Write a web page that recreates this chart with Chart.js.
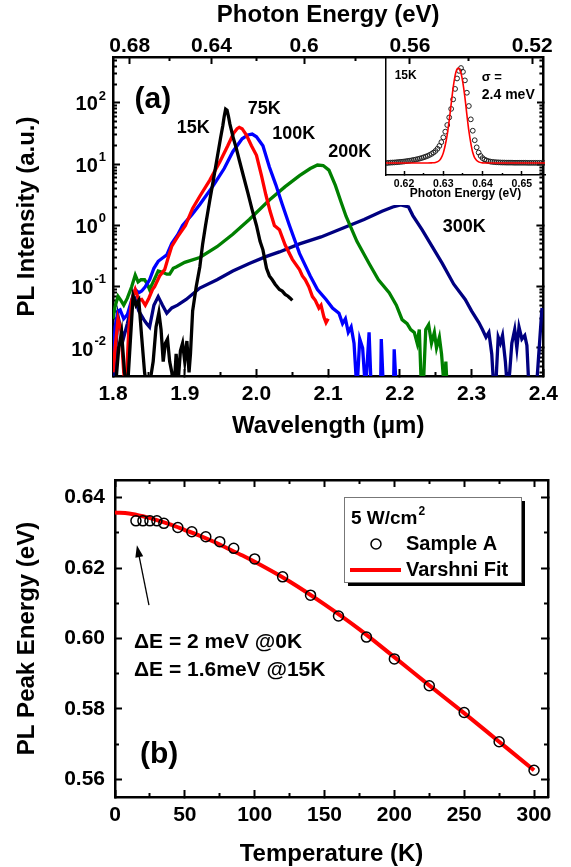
<!DOCTYPE html>
<html><head><meta charset="utf-8">
<script src="https://cdn.jsdelivr.net/npm/chart.js@4.4.0/dist/chart.umd.min.js"></script>
<style>
html,body{margin:0;padding:0;background:#fff;width:571px;height:867px;overflow:hidden}
#wrap{position:relative;width:571px;height:867px;background:#fff}
canvas{position:absolute}
#ca{left:0;top:0}
#ci{left:376px;top:50px}
#cb{left:0;top:440px}
</style></head><body>
<div id="wrap">
<canvas id="ca" width="571" height="440"></canvas>
<canvas id="ci" width="181" height="155"></canvas>
<canvas id="cb" width="571" height="427"></canvas>
</div>
<script>
const FONT = "'Liberation Sans', Arial, Helvetica, sans-serif";
const HC = 1.23984; // eV*um, converts photon energy to wavelength for the top axis

// ---------------- Panel (a): PL spectra (wavelength in um, intensity a.u.) ----------------
const wl15 = [1.803,1.808,1.812,1.816,1.820,1.824,1.828,1.832,1.836,1.840,1.844,1.848,1.852,1.856,1.860,1.864,1.867,1.870,1.873,1.876,1.879,1.882,1.885,1.888,1.891,1.894,1.897,1.900,1.903,1.906,1.908,1.911,1.916,1.921,1.925,1.929,1.935,1.940,1.945,1.950,1.953,1.955,1.957,1.959,1.961,1.963,1.968,1.972,1.976,1.982,1.988,1.994,2.000,2.005,2.009,2.014,2.018,2.022,2.026,2.032,2.036,2.040,2.044,2.047,2.050];
const pl15 = [0.002,0.010,0.018,0.004,0.002,0.012,0.070,0.050,0.060,0.015,0.004,0.002,0.003,0.006,0.022,0.038,0.020,0.006,0.012,0.014,0.006,0.004,0.002,0.008,0.003,0.009,0.012,0.006,0.013,0.004,0.008,0.040,0.10,0.21,0.50,1.0,2.6,5.6,12.3,27,42,60,79,76,60,45,26,18,11.7,6.3,3.4,1.8,1.0,0.55,0.40,0.20,0.15,0.13,0.11,0.09,0.085,0.075,0.07,0.065,0.06];

const wl75 = [1.800,1.803,1.807,1.811,1.815,1.818,1.822,1.826,1.831,1.836,1.840,1.845,1.850,1.855,1.858,1.865,1.872,1.877,1.882,1.890,1.901,1.911,1.921,1.935,1.949,1.960,1.968,1.973,1.976,1.980,1.986,1.993,2.000,2.007,2.013,2.019,2.025,2.032,2.040,2.050,2.060,2.064,2.068,2.073,2.078,2.082,2.087,2.090,2.094,2.097,2.100];
const pl75 = [0.004,0.010,0.030,0.020,0.004,0.002,0.020,0.060,0.090,0.060,0.062,0.050,0.065,0.090,0.10,0.15,0.19,0.30,0.46,0.65,1.0,1.9,3.0,5.5,11,20,32,38,40,38,30,20,14,6.5,3.2,1.7,1.0,0.85,0.48,0.28,0.19,0.15,0.13,0.10,0.069,0.060,0.045,0.050,0.032,0.026,0.030];

const wl100 = [1.800,1.803,1.807,1.810,1.815,1.820,1.826,1.831,1.836,1.840,1.845,1.851,1.857,1.863,1.870,1.875,1.882,1.890,1.897,1.910,1.921,1.940,1.955,1.967,1.980,1.988,1.994,2.000,2.009,2.018,2.027,2.036,2.046,2.060,2.075,2.085,2.097,2.106,2.115,2.120,2.124,2.128,2.132,2.136,2.140,2.144,2.148,2.152,2.157,2.160,2.173,2.174,2.177,2.191,2.192,2.195];
const pl100 = [0.006,0.022,0.040,0.042,0.030,0.035,0.060,0.090,0.080,0.085,0.10,0.13,0.20,0.26,0.30,0.33,0.51,0.70,1.0,1.5,2.2,4.5,8.5,16,26,30,31,28,20,9,4.6,2.2,1.0,0.35,0.15,0.09,0.062,0.045,0.037,0.025,0.030,0.018,0.022,0.012,0.002,0.014,0.010,0.002,0.018,0.002,0.002,0.014,0.002,0.002,0.0095,0.002];

const wl200 = [1.800,1.803,1.807,1.811,1.815,1.820,1.826,1.831,1.835,1.839,1.844,1.848,1.851,1.856,1.863,1.870,1.875,1.879,1.884,1.888,1.900,1.921,1.945,1.967,1.990,2.018,2.040,2.060,2.075,2.085,2.093,2.101,2.110,2.118,2.125,2.140,2.157,2.170,2.185,2.195,2.203,2.210,2.215,2.220,2.224,2.227,2.230,2.233,2.236,2.240,2.244,2.248,2.251,2.255,2.258,2.262,2.264,2.266];
const pl200 = [0.030,0.048,0.070,0.060,0.050,0.065,0.10,0.155,0.12,0.13,0.13,0.11,0.09,0.12,0.18,0.17,0.16,0.16,0.20,0.21,0.25,0.30,0.45,0.72,1.25,2.6,4.3,6.5,8.5,9.7,9.5,8.0,4.5,2.4,1.4,0.55,0.24,0.13,0.08,0.05,0.029,0.025,0.020,0.018,0.012,0.020,0.002,0.003,0.020,0.024,0.012,0.018,0.010,0.015,0.008,0.002,0.006,0.002];

const wl300 = [1.800,1.803,1.807,1.811,1.815,1.820,1.826,1.831,1.836,1.843,1.847,1.851,1.857,1.863,1.869,1.875,1.882,1.890,1.902,1.921,1.945,1.967,1.990,2.013,2.032,2.060,2.090,2.120,2.150,2.175,2.190,2.201,2.212,2.218,2.231,2.245,2.259,2.275,2.291,2.300,2.310,2.315,2.320,2.324,2.328,2.331,2.334,2.337,2.340,2.343,2.347,2.350,2.353,2.356,2.360,2.363,2.366,2.370,2.374,2.377,2.380,2.390,2.398];
const pl300 = [0.002,0.0065,0.033,0.020,0.015,0.025,0.050,0.062,0.040,0.029,0.025,0.022,0.050,0.069,0.050,0.037,0.045,0.050,0.062,0.095,0.13,0.18,0.24,0.31,0.37,0.50,0.65,0.90,1.25,1.70,2.0,2.17,2.0,1.45,0.85,0.45,0.24,0.11,0.062,0.040,0.026,0.020,0.015,0.018,0.008,0.002,0.003,0.015,0.012,0.016,0.006,0.002,0.004,0.012,0.020,0.010,0.022,0.014,0.016,0.011,0.002,0.002,0.045];

const seriesNames = ['15K','75K','100K','200K','300K'];
const seriesColors = ['#000000','#ff0000','#0000ff','#008000','#000080'];

const wlMajor = [1.8,1.9,2.0,2.1,2.2,2.3,2.4];
const wlMinor = [1.85,1.95,2.05,2.15,2.25,2.35];
const eTop = [0.68,0.64,0.60,0.56,0.52];
const eTopLabels = ['0.68','0.64','0.6','0.56','0.52'];
const eTopMinor = [0.66,0.62,0.58,0.54];
const yDecades = [0.01,0.1,1,10,100];
const yExp = ['-2','-1','0','1','2'];
const yMinorVals = [0.004,0.005,0.006,0.007,0.008,0.009,0.02,0.03,0.04,0.05,0.06,0.07,0.08,0.09,0.2,0.3,0.4,0.5,0.6,0.7,0.8,0.9,2,3,4,5,6,7,8,9,20,30,40,50,60,70,80,90,200,300,400,500];

// ---------------- Inset: 15K spectrum vs photon energy ----------------
const insetE = [0.6155,0.6160,0.6165,0.6170,0.6175,0.6180,0.6185,0.6190,0.6195,0.6200,0.6205,0.6210,0.6215,0.6220,0.6225,0.6230,0.6235,0.6240,0.6245,0.6250,0.6255,0.6260,0.6265,0.6270,0.6275,0.6280,0.6285,0.6290,0.6295,0.6300,0.6305,0.6310,0.6315,0.6320,0.6325,0.6330,0.6335,0.6340,0.6345,0.6350,0.6355,0.6360,0.6365,0.6370,0.6375,0.6380,0.6385,0.6390,0.6395,0.6400,0.6405,0.6410,0.6415,0.6420,0.6425,0.6430,0.6435,0.6440,0.6445,0.6450,0.6455,0.6460,0.6465,0.6470,0.6475,0.6480,0.6485,0.6490,0.6495,0.6500,0.6505,0.6510,0.6515,0.6520,0.6525,0.6530,0.6535,0.6540,0.6545,0.6550,0.6555];
const insetPL = [0.000,0.002,0.004,0.005,0.006,0.008,0.010,0.012,0.014,0.016,0.019,0.022,0.025,0.029,0.033,0.037,0.042,0.047,0.053,0.060,0.067,0.075,0.085,0.096,0.110,0.127,0.150,0.180,0.220,0.270,0.330,0.400,0.480,0.570,0.670,0.780,0.890,0.970,1.000,0.960,0.870,0.740,0.600,0.460,0.340,0.240,0.165,0.110,0.075,0.052,0.037,0.027,0.020,0.015,0.012,0.010,0.008,0.007,0.006,0.005,0.005,0.004,0.004,0.004,0.004,0.003,0.003,0.003,0.003,0.003,0.003,0.003,0.002,0.002,0.002,0.002,0.002,0.002,0.002,0.002,0.002];
const insetFitE = [0.6154,0.6260,0.6270,0.6280,0.6290,0.6295,0.6300,0.6305,0.6310,0.6315,0.6320,0.6325,0.6330,0.6334,0.6338,0.6342,0.6346,0.6350,0.6355,0.6360,0.6365,0.6370,0.6375,0.6380,0.6390,0.6400,0.6410,0.6559];
const insetFitPL = [0.000,0.000,0.002,0.006,0.027,0.056,0.107,0.19,0.30,0.45,0.62,0.79,0.92,0.98,1.00,0.98,0.93,0.84,0.69,0.51,0.34,0.21,0.11,0.055,0.012,0.002,0.000,0.000];
const insetTicks = [0.62,0.63,0.64,0.65];
const insetMinor = [0.625,0.635,0.645,0.655];

// ---------------- Panel (b): PL peak energy vs temperature ----------------
const tempK = [15,20,25,30,35,45,55,65,75,85,100,120,140,160,180,200,225,250,275,300];
const peakE = [0.6334,0.6334,0.6334,0.6334,0.6327,0.6315,0.6303,0.6289,0.6275,0.6256,0.6226,0.6175,0.6123,0.6064,0.6004,0.5942,0.5866,0.5790,0.5707,0.5626];
const fitT = [0,10,20,30,40,50,60,70,80,90,100,125,150,175,200,225,250,275,300];
const fitE = [0.6358,0.6355,0.6347,0.6336,0.6323,0.6308,0.6293,0.6276,0.6257,0.6238,0.6218,0.6162,0.6097,0.6026,0.5947,0.5867,0.5788,0.5707,0.5626];
const tMajor = [0,50,100,150,200,250,300];
const tMinor = [25,75,125,175,225,275];
const eMajor = [0.56,0.58,0.60,0.62,0.64];
const eMinor = [0.57,0.59,0.61,0.63];

// ---------------- helpers ----------------
const pts = (xs, ys) => xs.map((x, i) => ({x, y: ys[i]}));
const fixTicks = arr => s => { s.ticks = arr.map(v => ({value: v})); };
const gridIn = (len, w) => ({display: true, drawOnChartArea: false, drawTicks: true, tickLength: -len, tickWidth: w || 2, tickColor: '#000'});
const borderOn = {display: true, color: '#000', width: 2.5};
const borderOff = {display: false};
const tickFont = {family: FONT, size: 21, weight: 'bold'};
const titleFont = {family: FONT, size: 24, weight: 'bold'};
const hidden = {display: false};

function markAxis(type, position, min, max, arr, len, sizeKey, weight, withBorder) {
  return {type, position, min, max, weight: weight, afterBuildTicks: fixTicks(arr),
    afterFit: s => { s[sizeKey] = 0; }, ticks: hidden, grid: gridIn(len), border: withBorder ? borderOn : borderOff};
}

// ---------------- Chart (a) ----------------
const YMIN = 0.00349, YMAX = 562;
const specLabels = [
  {text: '(a)', x: 1.8556, y: 112, size: 30},
  {text: '15K', x: 1.9118, y: 39, size: 18},
  {text: '75K', x: 2.011, y: 80, size: 18},
  {text: '100K', x: 2.052, y: 31.2, size: 18},
  {text: '200K', x: 2.130, y: 15.8, size: 18},
  {text: '300K', x: 2.2896, y: 0.948, size: 18}
];
const annotA = {
  id: 'annotA',
  afterDraw(chart) {
    const ctx = chart.ctx, sx = chart.scales.x, sy = chart.scales.y;
    ctx.save();
    ctx.fillStyle = '#000';
    ctx.textBaseline = 'middle';
    // log tick labels 10^n
    yDecades.forEach((v, i) => {
      const py = sy.getPixelForValue(v);
      const xr = sy.right - 7;
      ctx.font = 'bold 13px ' + FONT;
      const we = ctx.measureText(yExp[i]).width;
      ctx.textAlign = 'left';
      ctx.fillText(yExp[i], xr - we, py - 7);
      ctx.font = 'bold 20px ' + FONT;
      ctx.textAlign = 'right';
      ctx.fillText('10', xr - we - 1, py + 2);
    });
    ctx.textAlign = 'center';
    specLabels.forEach(l => {
      ctx.font = 'bold ' + l.size + 'px ' + FONT;
      ctx.fillText(l.text, sx.getPixelForValue(l.x), sy.getPixelForValue(l.y));
    });
    ctx.restore();
  }
};

const specX = [wl15, wl75, wl100, wl200, wl300];
const specY = [pl15, pl75, pl100, pl200, pl300];
new Chart(document.getElementById('ca'), {
  type: 'line',
  data: {datasets: seriesNames.map((n, i) => ({
    label: n, data: pts(specX[i], specY[i]), borderColor: seriesColors[i], backgroundColor: seriesColors[i],
    borderWidth: 3.3, pointRadius: 0, fill: false, tension: 0, xAxisID: 'x', yAxisID: 'y'
  }))},
  options: {
    responsive: false, animation: false, devicePixelRatio: 1,
    layout: {padding: {left: 0, right: 26, top: 0, bottom: 0}},
    plugins: {legend: {display: false}, tooltip: {enabled: false}},
    scales: {
      x: {type: 'linear', position: 'bottom', min: 1.8, max: 2.4, afterBuildTicks: fixTicks(wlMajor),
        afterFit: s => { s.height = 64; },
        ticks: {font: tickFont, color: '#000', padding: 13, autoSkip: false, maxRotation: 0, callback: v => v.toFixed(1)},
        grid: gridIn(7), border: borderOn,
        title: {display: true, text: 'Wavelength (μm)', font: titleFont, color: '#000', padding: {top: 0, bottom: -1}}},
      x2: markAxis('linear', 'bottom', 1.8, 2.4, wlMinor, 4, 'height', -1),
      xt: {type: 'linear', position: 'top', min: 1.8, max: 2.4,
        afterBuildTicks: s => { s.ticks = eTop.map(e => ({value: HC / e})); },
        afterFit: s => { s.height = 57; },
        ticks: {font: tickFont, color: '#000', padding: 5, autoSkip: false, maxRotation: 0, callback: (v, i) => eTopLabels[i]},
        grid: gridIn(7), border: borderOn,
        title: {display: true, text: 'Photon Energy (eV)', font: titleFont, color: '#000', padding: {top: 1, bottom: 0}}},
      xt2: {type: 'linear', position: 'top', min: 1.8, max: 2.4, weight: -1,
        afterBuildTicks: s => { s.ticks = eTopMinor.map(e => ({value: HC / e})); },
        afterFit: s => { s.height = 0; }, ticks: hidden, grid: gridIn(4), border: borderOff},
      y: {type: 'logarithmic', position: 'left', min: YMIN, max: YMAX, afterBuildTicks: fixTicks(yDecades),
        afterFit: s => { s.width = 113; },
        ticks: {display: false}, grid: gridIn(7), border: borderOn,
        title: {display: true, text: 'PL Intensity (a.u.)', font: titleFont, color: '#000', padding: {top: 13, bottom: 0}}},
      y2: markAxis('logarithmic', 'left', YMIN, YMAX, yMinorVals, 4, 'width', -1),
      yr: markAxis('logarithmic', 'right', YMIN, YMAX, yDecades, 7, 'width', 0, true),
      yr2: markAxis('logarithmic', 'right', YMIN, YMAX, yMinorVals, 4, 'width', -1)
    }
  },
  plugins: [annotA]
});
</script>
<script>
// ---------------- Inset ----------------
const insetBg = {
  id: 'insetBg',
  beforeDraw(chart) {
    const a = chart.chartArea, ctx = chart.ctx;
    ctx.save(); ctx.fillStyle = '#fff';
    ctx.fillRect(a.left, a.top + 8, a.right - 8 - a.left, chart.height - a.top - 8);
    ctx.restore();
  }
};
const insetText = [
  {text: '15K', x: 0.6176, y: 0.916, size: 12},
  {text: 'σ =', x: 0.6398, y: 0.905, size: 13},
  {text: '2.4 meV', x: 0.6398, y: 0.716, size: 14}
];
const annotI = {
  id: 'annotI',
  afterDraw(chart) {
    const ctx = chart.ctx, sx = chart.scales.x, sy = chart.scales.y;
    ctx.save(); ctx.fillStyle = '#000'; ctx.textBaseline = 'middle'; ctx.textAlign = 'left';
    insetText.forEach(t => {
      ctx.font = 'bold ' + t.size + 'px ' + FONT;
      ctx.fillText(t.text, sx.getPixelForValue(t.x), sy.getPixelForValue(t.y));
    });
    ctx.restore();
  }
};
new Chart(document.getElementById('ci'), {
  type: 'line',
  data: {datasets: [
    {label: '15K', data: pts(insetE, insetPL), showLine: false, pointRadius: 2.4, pointBorderWidth: 1,
      pointBorderColor: '#222', pointBackgroundColor: 'rgba(0,0,0,0)', xAxisID: 'x', yAxisID: 'y', order: 1},
    {label: 'Gaussian fit', data: pts(insetFitE, insetFitPL), borderColor: '#ff0000', borderWidth: 1.6,
      pointRadius: 0, cubicInterpolationMode: 'monotone', xAxisID: 'x', yAxisID: 'y', order: 0}
  ]},
  options: {
    responsive: false, animation: false, devicePixelRatio: 1,
    layout: {padding: {left: 10, right: 12, top: 7, bottom: 0}},
    plugins: {legend: {display: false}, tooltip: {enabled: false}},
    scales: {
      x: {type: 'linear', position: 'bottom', min: 0.6154, max: 0.6559, afterBuildTicks: fixTicks(insetTicks),
        afterFit: s => { s.height = 30; },
        ticks: {font: {family: FONT, size: 10.5, weight: 'bold'}, color: '#000', padding: 7, autoSkip: false, maxRotation: 0, callback: v => v.toFixed(2)},
        grid: gridIn(4, 1.5), border: {display: true, color: '#000', width: 1.5},
        title: {display: true, text: 'Photon Energy (eV)', font: {family: FONT, size: 12, weight: 'bold'}, color: '#000', padding: {top: 0, bottom: 4}}},
      x2: {type: 'linear', position: 'bottom', weight: -1, min: 0.6154, max: 0.6559, afterBuildTicks: fixTicks(insetMinor),
        afterFit: s => { s.height = 0; }, ticks: hidden, grid: gridIn(2, 1.5), border: borderOff},
      y: {type: 'linear', position: 'left', min: -0.126, max: 1.116, afterFit: s => { s.width = 0; },
        ticks: hidden, grid: {display: false}, border: {display: true, color: '#000', width: 1.5}}
    }
  },
  plugins: [insetBg, annotI]
});
</script>
<script>
// ---------------- Chart (b) ----------------
const annotB = {
  id: 'annotB',
  afterDraw(chart) {
    const ctx = chart.ctx, sx = chart.scales.x, sy = chart.scales.y;
    ctx.save();
    ctx.fillStyle = '#000'; ctx.strokeStyle = '#000';
    // arrow
    const x1 = sx.getPixelForValue(24.3), y1 = sy.getPixelForValue(0.6095);
    const x2 = sx.getPixelForValue(15.7), y2 = sy.getPixelForValue(0.6265);
    const ang = Math.atan2(y2 - y1, x2 - x1);
    ctx.lineWidth = 1.3;
    ctx.beginPath(); ctx.moveTo(x1, y1); ctx.lineTo(x2 - 8 * Math.cos(ang), y2 - 8 * Math.sin(ang)); ctx.stroke();
    ctx.beginPath();
    ctx.moveTo(x2, y2);
    ctx.lineTo(x2 - 12 * Math.cos(ang) + 4 * Math.sin(ang), y2 - 12 * Math.sin(ang) - 4 * Math.cos(ang));
    ctx.lineTo(x2 - 12 * Math.cos(ang) - 4 * Math.sin(ang), y2 - 12 * Math.sin(ang) + 4 * Math.cos(ang));
    ctx.closePath(); ctx.fill();
    // texts
    ctx.textBaseline = 'middle'; ctx.textAlign = 'left';
    ctx.font = 'bold 21px ' + FONT;
    ctx.fillText('ΔE = 2 meV @0K', sx.getPixelForValue(13.6), sy.getPixelForValue(0.5990));
    ctx.fillText('ΔE = 1.6meV @15K', sx.getPixelForValue(13.6), sy.getPixelForValue(0.5911));
    ctx.font = 'bold 30px ' + FONT;
    ctx.fillText('(b)', sx.getPixelForValue(17.9), sy.getPixelForValue(0.5670));
    // legend box
    const L = 344, T = 57, R = 521, B = 142;
    ctx.fillStyle = '#000'; ctx.fillRect(L + 4, T + 4, R - L, B - T);
    ctx.fillStyle = '#fff'; ctx.fillRect(L, T, R - L, B - T);
    ctx.strokeStyle = '#777'; ctx.lineWidth = 1; ctx.strokeRect(L + 0.5, T + 0.5, R - L, B - T);
    ctx.fillStyle = '#000';
    ctx.font = 'bold 19px ' + FONT;
    ctx.fillText('5 W/cm', 351, 79);
    const w = ctx.measureText('5 W/cm').width;
    ctx.font = 'bold 12px ' + FONT;
    ctx.fillText('2', 351 + w + 1, 72);
    const ds = chart.data.datasets;
    ctx.font = 'bold 20px ' + FONT;
    ctx.strokeStyle = '#000'; ctx.lineWidth = 1.5;
    ctx.beginPath(); ctx.arc(376, 104, 5, 0, Math.PI * 2); ctx.stroke();
    ctx.fillText(ds[0].label, 406, 104);
    ctx.strokeStyle = '#ff0000'; ctx.lineWidth = 4;
    ctx.beginPath(); ctx.moveTo(350, 130); ctx.lineTo(401, 130); ctx.stroke();
    ctx.fillText(ds[1].label, 406, 130);
    ctx.restore();
  }
};
new Chart(document.getElementById('cb'), {
  type: 'line',
  data: {datasets: [
    {label: 'Sample A', data: pts(tempK, peakE), showLine: false, pointRadius: 5, pointBorderWidth: 1.5,
      pointBorderColor: '#000', pointBackgroundColor: 'rgba(0,0,0,0)', xAxisID: 'x', yAxisID: 'y', order: 0},
    {label: 'Varshni Fit', data: pts(fitT, fitE), borderColor: '#ff0000', borderWidth: 4, pointRadius: 0,
      cubicInterpolationMode: 'monotone', xAxisID: 'x', yAxisID: 'y', order: 1}
  ]},
  options: {
    responsive: false, animation: false, devicePixelRatio: 1,
    layout: {padding: {left: 0, right: 23, top: 40, bottom: 0}},
    plugins: {legend: {display: false}, tooltip: {enabled: false}},
    scales: {
      x: {type: 'linear', position: 'bottom', min: 0, max: 310, afterBuildTicks: fixTicks(tMajor),
        afterFit: s => { s.height = 70; },
        ticks: {font: tickFont, color: '#000', padding: 13, autoSkip: false, maxRotation: 0, callback: v => String(v)},
        grid: gridIn(7), border: borderOn,
        title: {display: true, text: 'Temperature (K)', font: titleFont, color: '#000', padding: {top: 0, bottom: -2}}},
      x2: markAxis('linear', 'bottom', 0, 310, tMinor, 4, 'height', -1),
      xt: markAxis('linear', 'top', 0, 310, tMajor, 7, 'height', 0, true),
      xt2: markAxis('linear', 'top', 0, 310, tMinor, 4, 'height', -1),
      y: {type: 'linear', position: 'left', min: 0.555, max: 0.645, afterBuildTicks: fixTicks(eMajor),
        afterFit: s => { s.width = 115; },
        ticks: {font: tickFont, color: '#000', padding: 17, autoSkip: false, callback: v => v.toFixed(2)},
        grid: gridIn(7), border: borderOn,
        title: {display: true, text: 'PL Peak Energy (eV)', font: titleFont, color: '#000', padding: {top: 13, bottom: 0}}},
      y2: markAxis('linear', 'left', 0.555, 0.645, eMinor, 4, 'width', -1),
      yr: markAxis('linear', 'right', 0.555, 0.645, eMajor, 7, 'width', 0, true),
      yr2: markAxis('linear', 'right', 0.555, 0.645, eMinor, 4, 'width', -1)
    }
  },
  plugins: [annotB]
});
</script>
</body></html>
